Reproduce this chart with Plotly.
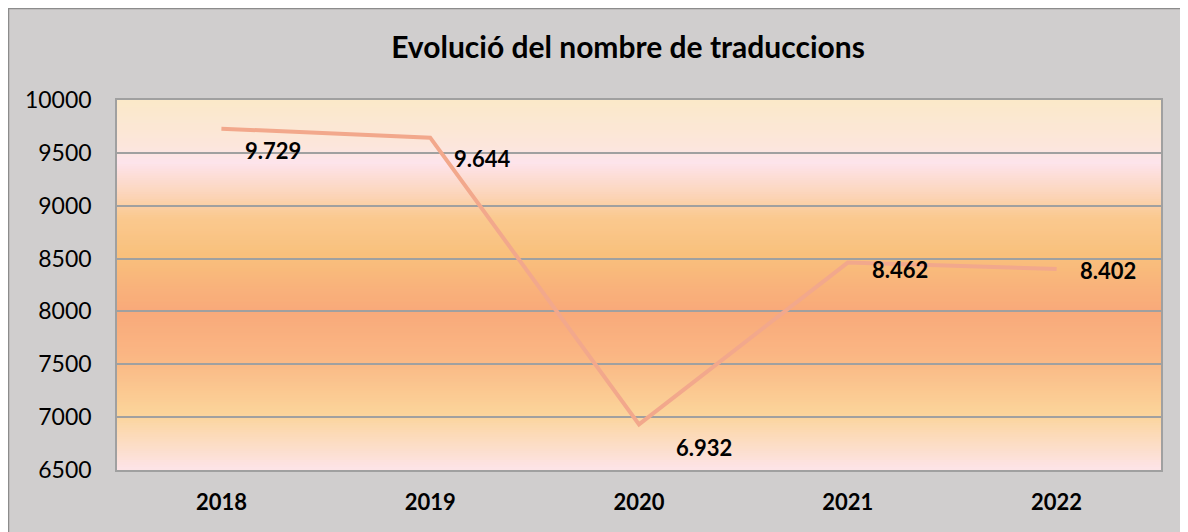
import plotly.graph_objects as go

# Chart data
YEARS = ["2018", "2019", "2020", "2021", "2022"]
TRANSLATIONS = [9729, 9644, 6932, 8462, 8402]
LABELS = ["9.729", "9.644", "6.932", "8.462", "8.402"]

TITLE = "Evolució del nombre de traduccions"
FONT = "Lato, Open Sans, sans-serif"

# Background gradient of the plot area (fraction from top, colour)
GRADIENT_STOPS = [
    (0.00, "#FBE9C9"),
    (0.13, "#FCE6DC"),
    (0.17, "#FDE4EC"),
    (0.25, "#FCD6BE"),
    (0.32, "#FAC98F"),
    (0.42, "#F9C07C"),
    (0.57, "#F9A97A"),
    (0.70, "#FAB784"),
    (0.85, "#FBD49A"),
    (1.00, "#FDE4E8"),
]


def hex_to_rgb(h):
    h = h.lstrip("#")
    return tuple(int(h[i:i + 2], 16) for i in (0, 2, 4))


def color_at(t):
    """Interpolate the gradient colour at fraction t (0 = top)."""
    for (t0, c0), (t1, c1) in zip(GRADIENT_STOPS, GRADIENT_STOPS[1:]):
        if t0 <= t <= t1:
            f = (t - t0) / (t1 - t0) if t1 > t0 else 0
            a, b = hex_to_rgb(c0), hex_to_rgb(c1)
            r, g, bl = (round(a[i] + (b[i] - a[i]) * f) for i in range(3))
            return f"rgb({r},{g},{bl})"
    return GRADIENT_STOPS[-1][1]


def gradient_shapes(n=160):
    shapes = []
    for i in range(n):
        top = 1 - i / n
        bottom = 1 - (i + 1) / n
        shapes.append(dict(
            type="rect", xref="x domain", yref="y domain",
            x0=0, x1=1, y0=bottom, y1=min(1, top + 0.002),
            fillcolor=color_at((i + 0.5) / n),
            line=dict(width=0), layer="below",
        ))
    return shapes


fig = go.Figure()

fig.add_trace(go.Scatter(
    x=YEARS,
    y=TRANSLATIONS,
    mode="lines",
    line=dict(color="#F2A88C", width=4),
    hoverinfo="skip",
    showlegend=False,
))

# Value labels, offset right/below of each point like the original
X_SHIFT = [22, 22, 35, 22, 21]
Y_SHIFT = [-22, -21, -23, -7, -2]
annotations = []
for i, (val, lab) in enumerate(zip(TRANSLATIONS, LABELS)):
    annotations.append(dict(
        x=i, y=val, text=f"<b>{lab}</b>", showarrow=False,
        xanchor="left", yanchor="middle",
        xshift=X_SHIFT[i], yshift=Y_SHIFT[i],
        font=dict(family=FONT, size=22, color="black"),
    ))

# Figure sits 8px into the page; plot area placed to match the original
W, H = 1180, 524
ML, MR, MT, MB = 109, 27, 92, 62
pw, ph = W - ML - MR, H - MT - MB
chart_border = dict(
    type="rect", xref="paper", yref="paper",
    x0=(0.5 - ML) / pw, x1=(W + 20 - ML) / pw,
    y0=-(MB + 20) / ph, y1=1 + (MT - 0.5) / ph,
    fillcolor="rgba(0,0,0,0)", line=dict(color="#8C8C8C", width=1.5),
    layer="below",
)

fig.update_layout(
    width=W,
    height=H,
    margin=dict(l=ML, r=MR, t=MT, b=MB),
    paper_bgcolor="#D0CECE",
    plot_bgcolor="rgba(0,0,0,0)",
    title=dict(
        text=f"<b>{TITLE}</b>", x=(620 - ML) / pw, xref="paper",
        xanchor="center", y=1 - 39 / H, yanchor="middle",
        font=dict(family=FONT, size=30, color="black"),
    ),
    xaxis=dict(
        type="category", range=[-0.5, 4.5],
        showgrid=False, ticks="", showline=True,
        linecolor="#A0A0A0", linewidth=1.5, mirror=True,
        tickfont=dict(family=FONT, size=22, color="black", weight="bold"),
        ticklabelstandoff=12,
    ),
    yaxis=dict(
        range=[6500, 10000], dtick=500, tickformat="d",
        showgrid=True, gridcolor="#A0A0A0", gridwidth=1.5,
        showline=True, linecolor="#A0A0A0", linewidth=1.5, mirror=True,
        ticks="", zeroline=False,
        tickfont=dict(family=FONT, size=23, color="black"),
        ticklabelstandoff=19,
    ),
    shapes=[chart_border] + gradient_shapes(),
    annotations=annotations,
)

fig.write_html("out.html")
